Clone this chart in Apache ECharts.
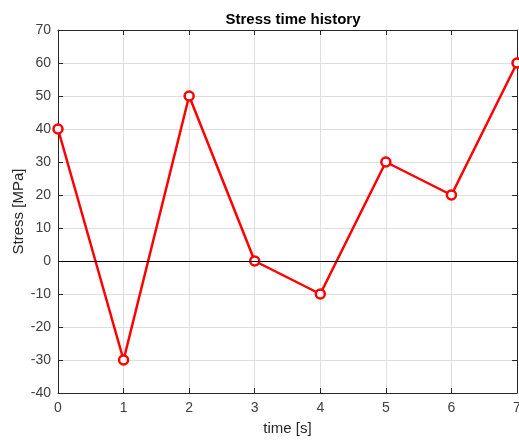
<!DOCTYPE html>
<html>
<head>
<meta charset="utf-8">
<script src="https://cdn.jsdelivr.net/npm/echarts@6/dist/echarts.min.js"></script>
<style>
  html, body { margin: 0; padding: 0; background: #fff; overflow: hidden; }
  #chart { width: 519px; height: 441px; }
</style>
</head>
<body>
<div id="chart"></div>
<script>
// Stress samples over time
const times = [0, 1, 2, 3, 4, 5, 6, 7];
const stress = [40, -30, 50, 0, -10, 30, 20, 60];
const yTicks = { min: -40, max: 70, step: 10 };
const xTicks = { min: 0, max: 7, step: 1 };

const chart = echarts.init(document.getElementById('chart'));
const font = 'Liberation Sans, Arial, Helvetica, sans-serif';
const axisColor = '#262626';
const labelColor = '#404040';
const gridLine = { show: true, lineStyle: { color: '#dedede', width: 1 } };

const baseX = {
  type: 'value', min: xTicks.min, max: xTicks.max, interval: xTicks.step,
  axisLine: { show: true, onZero: false, lineStyle: { color: axisColor, width: 1 } },
  axisTick: { show: true, inside: true, length: 5, lineStyle: { color: axisColor } }
};
const baseY = {
  type: 'value', min: yTicks.min, max: yTicks.max, interval: yTicks.step,
  axisLine: { show: true, onZero: false, lineStyle: { color: axisColor, width: 1 } },
  axisTick: { show: true, inside: true, length: 5, lineStyle: { color: axisColor } }
};

chart.setOption({
  animation: false,
  backgroundColor: '#ffffff',
  title: {
    text: 'Stress time history',
    left: 288, top: 7, textAlign: 'center',
    textStyle: { fontFamily: font, fontSize: 15, fontWeight: 'bold', color: '#000' }
  },
  grid: { left: 58, right: 2, top: 30, bottom: 48, outerBoundsMode: 'none', containLabel: false },
  xAxis: [
    Object.assign({}, baseX, {
      position: 'bottom',
      name: 'time [s]', nameLocation: 'middle', nameGap: 28, nameMoveOverlap: false,
      nameTextStyle: { fontFamily: font, fontSize: 15, color: axisColor },
      axisLabel: { fontFamily: font, fontSize: 14, color: labelColor, margin: 8 },
      splitLine: gridLine
    }),
    Object.assign({}, baseX, {
      position: 'top',
      axisLabel: { show: false },
      splitLine: { show: false }
    })
  ],
  yAxis: [
    Object.assign({}, baseY, {
      position: 'left',
      name: 'Stress [MPa]', nameLocation: 'middle', nameGap: 32, nameMoveOverlap: false,
      nameTextStyle: { fontFamily: font, fontSize: 15, color: axisColor },
      axisLabel: { fontFamily: font, fontSize: 14, color: labelColor, margin: 7 },
      splitLine: gridLine
    }),
    Object.assign({}, baseY, {
      position: 'right',
      axisLabel: { show: false },
      splitLine: { show: false }
    })
  ],
  series: [
    {
      type: 'line',
      data: times.map((t, i) => [t, stress[i]]),
      symbol: 'circle',
      symbolSize: 9,
      showAllSymbol: true,
      clip: false,
      itemStyle: { color: '#ffffff', borderColor: '#ff0000', borderWidth: 2.5 },
      lineStyle: { color: '#ff0000', width: 2.5 },
      markLine: {
        silent: true, symbol: 'none', label: { show: false },
        lineStyle: { color: '#000000', width: 1, type: 'solid' },
        data: [{ yAxis: 0 }]
      },
      z: 3
    }
  ]
});
</script>
</body>
</html>
